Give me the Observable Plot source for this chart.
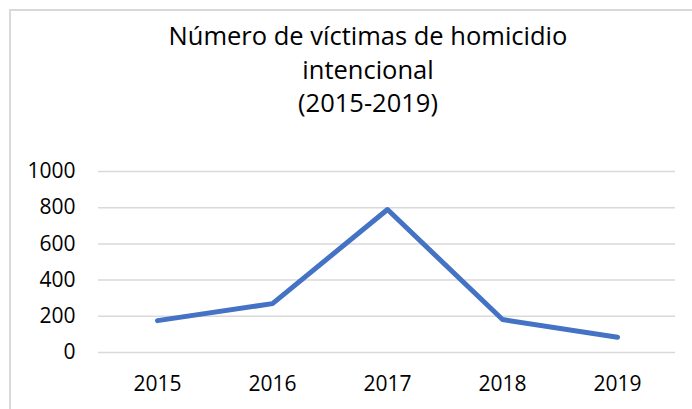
<!DOCTYPE html>
<html>
<head>
<meta charset="utf-8">
<script src="https://cdn.jsdelivr.net/npm/d3@7"></script>
<script src="https://cdn.jsdelivr.net/npm/@observablehq/plot@0.6"></script>
<style>
  html, body { margin: 0; padding: 0; background: #fff; }
  #wrap { position: relative; width: 692px; height: 409px; overflow: hidden; font-family: "Open Sans", sans-serif; }
  #frame { position: absolute; left: 9px; top: 9px; width: 800px; height: 500px; border-left: 2px solid #d9d9d9; border-top: 2px solid #d9d9d9; box-sizing: border-box; }
  #title { position: absolute; left: 0; top: 0; width: 736px; height: 150px; text-align: center; font-size: 25.5px; line-height: 33.5px; color: #000; padding-top: 19px; box-sizing: border-box; }
  #chart { position: absolute; left: 0; top: 150px; }
</style>
</head>
<body>
<div id="wrap">
  <div id="frame"></div>
  <div id="title">Número de víctimas de homicidio<br>intencional<br>(2015-2019)</div>
  <div id="chart"></div>
</div>
<script>
const years = ["2015", "2016", "2017", "2018", "2019"];
const victims = [176, 270, 790, 182, 84];
const yTicks = [0, 200, 400, 600, 800, 1000];

const data = years.map((y, i) => ({year: y, value: victims[i]}));

const chart = Plot.plot({
  width: 692,
  height: 259,
  marginTop: 21,
  marginBottom: 57,
  marginLeft: 98,
  marginRight: 17,
  style: {fontFamily: "Open Sans, sans-serif", fontSize: "20px", color: "#000", background: "transparent"},
  x: {type: "point", domain: years, padding: 0.5, label: null},
  y: {domain: [0, 1000], label: null},
  marks: [
    Plot.ruleY(yTicks, {stroke: "#d9d9d9", strokeWidth: 1.5}),
    Plot.axisY({ticks: yTicks, tickFormat: d => String(d), tickSize: 0, tickPadding: 23, fontSize: 21, fill: "#000", label: null}),
    Plot.axisX({tickSize: 0, tickPadding: 24, fontSize: 21, fill: "#000", label: null}),
    Plot.line(data, {x: "year", y: "value", stroke: "#4472c4", strokeWidth: 5, strokeLinecap: "round", strokeLinejoin: "round"})
  ]
});
document.getElementById("chart").appendChild(chart);
</script>
</body>
</html>
